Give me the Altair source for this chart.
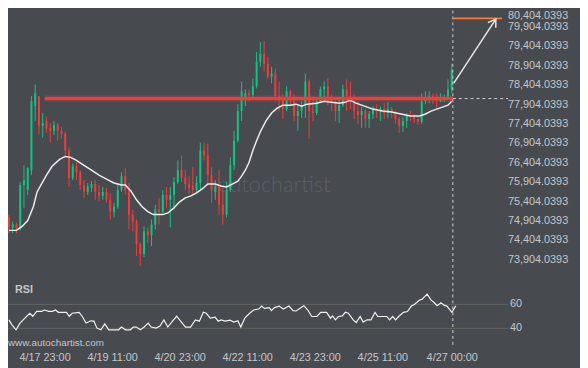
import altair as alt
import pandas as pd
from datetime import datetime, timedelta, timezone

# ---------------- data (2-hour candles from 4/17 04:00 UTC) ----------------
opens = [74996,74742,74818,74717,75834,75707,76215,77865,78119,77357,
         77484,77306,77230,77383,77230,77154,76722,76012,76316,76164,
         75834,75656,75758,75859,75656,75555,75656,75453,75148,75275,
         75707,76062,75707,75072,74894,74311,74056,74640,74539,74818,
         75199,75148,75580,75453,75580,75910,76215,76012,75859,75809,
         75707,75885,76722,76596,76088,75656,75809,75326,75072,75707,
         76342,76976,77738,78094,78195,78144,78373,79008,79211,78957,
         78627,78703,78119,78043,77789,78246,77992,77611,77738,77890,
         78500,77738,77687,77992,78297,78373,77992,77941,77738,77890,
         78297,78119,77992,77738,77636,77738,77535,77662,77789,77738,
         77789,77687,77789,77687,77535,77357,77484,77611,77586,77535,
         77459,77992,78068,78119,78017,77992,78043,78094,78297]
highs = [75072,74894,74869,75910,76342,76291,78119,78424,78119,77687,
         77586,77433,77484,77433,77332,77205,76799,76393,76418,76215,
         75961,75885,75935,75961,75834,75783,75758,75631,75377,75834,
         76164,76266,75885,75199,74945,74361,74767,74742,74945,75326,
         75504,75707,75783,75783,76037,76469,76596,76215,76062,76291,
         76062,76926,76926,76900,76291,75961,76215,75758,75910,76545,
         77230,77916,78500,78297,78297,78576,79261,79515,79541,79135,
         78881,78830,78500,78170,78373,78297,78170,77916,77992,78703,
         78551,78119,78043,78373,78500,78576,78170,78068,78043,78424,
         78551,78500,78170,77992,77840,77789,77738,77865,77916,77865,
         77941,77967,77840,77738,77586,77586,77687,77738,77662,77636,
         78195,78246,78246,78195,78195,78195,78170,78551,78957]
lows = [74590,74590,74590,74666,75250,75580,76088,77484,77154,77053,
        77179,76926,77129,76976,77027,76545,75783,75961,75961,75707,
        75504,75580,75656,75453,75427,75453,75377,74945,74996,75225,
        75656,75580,74691,74640,74006,73752,73980,74336,74260,74691,
        74818,75097,75250,74742,75199,75859,75910,75707,75605,75605,
        75656,75707,76469,75885,75377,75453,75072,74818,74996,75656,
        76215,76926,77484,77865,77992,78094,78322,78881,78754,78576,
        78449,77992,77738,77535,77738,77890,77484,77230,77560,77560,
        77027,77484,77636,77941,77992,77890,77738,77484,77433,77840,
        77738,77789,77535,77408,77306,77306,77306,77535,77560,77484,
        77535,77560,77560,77408,77179,77205,77306,77484,77433,77383,
        77408,77916,77941,77916,77814,77967,77967,78043,78195]
closes = [74742,74818,74717,75834,75961,76266,77992,78195,77357,77433,
          77281,77230,77383,77230,77154,76722,76012,76316,76164,75834,
          75656,75809,75859,75656,75555,75656,75453,75148,75275,75707,
          76062,75707,75072,74894,74311,74056,74640,74539,74818,75199,
          75148,75580,75453,75580,75910,76215,76012,75859,75758,75707,
          75885,76722,76596,76088,75707,75809,75326,75072,75707,76342,
          76976,77738,78246,78195,78144,78373,79008,79211,78957,78627,
          78703,78119,78043,77789,78246,77992,77611,77738,77890,78500,
          77738,77687,77992,78297,78373,77992,77941,77738,77890,78297,
          78119,77992,77738,77636,77738,77535,77662,77789,77738,77789,
          77687,77789,77687,77535,77357,77484,77611,77586,77535,77459,
          77992,78068,78119,78017,77992,78043,78094,78297,78805]

# moving average (hours from 4/17 04:00, price)
ma_hours = [0,4,7,10,13,15,20,23,27,30,33,36,40,44,48,52,56,60,62,65,
            68,71,74,77,82,85,88,91,94,97,100,103,106,110,113,116,119,122,124,126,
            128,130,132,134,137,140,143,146,150,153,156,159,164,168,172,176,179,182,185,188,
            191,194,199,204,209,214,219,222,225,228,231,234,236]
ma_vals = [74666,74666,74767,74920,75275,75656,76088,76316,76494,76570,
           76545,76469,76342,76215,76088,75986,75885,75834,75834,75682,
           75453,75275,75148,75072,75072,75123,75250,75402,75504,75555,
           75631,75732,75859,75859,75809,75783,75859,75935,76062,76215,
           76418,76722,76976,77205,77484,77687,77814,77890,77890,77916,
           77865,77916,77941,77992,77967,77941,77967,78017,77941,77890,
           77840,77789,77738,77712,77662,77611,77611,77662,77738,77789,
           77840,77890,77992]

# RSI (hours from 4/17 04:00, value)
rsi_hours = [0,1.7,3.8,5.9,8.5,11.1,12.7,14.8,17.4,19.0,
             21.1,23.2,24.8,26.4,30.6,32.2,33.7,37.4,39.0,41.1,
             43.7,45.3,46.9,49.0,51.1,53.2,58.4,60.0,62.1,64.7,
             66.3,67.9,70.0,72.1,74.2,75.8,78.4,80.5,82.6,84.7,
             87.3,89.4,91.5,94.1,96.8,99.4,101.5,103.6,105.2,107.3,
             109.9,111.5,113.1,115.2,117.8,119.9,122.0,123.6,125.7,128.3,
             130.4,133.1,134.7,136.2,138.8,139.9,141.5,144.1,146.2,149.3,
             151.4,153.0,154.6,157.2,159.3,161.4,164.1,166.2,169.3,171.4,
             172.5,174.0,175.6,177.7,179.3,180.9,183.5,185.1,187.2,188.8,
             190.9,193.0,195.1,196.6,201.4,202.9,204.5,206.1,207.7,210.3,
             212.4,214.5,216.1,218.7,220.3,221.4,222.9,225.0,226.6,228.2,
             230.3,231.9,233.4,236.1,238.2]
rsi_vals = [47.1,42.7,38.8,44.4,48.5,52.6,50.1,54.2,54.2,55.3,
            54.2,54.2,55.3,53.4,53.4,50.1,52.6,53.4,50.1,44.4,
            46.3,46.0,40.2,38.8,43.8,38.8,38.8,41.1,38.8,38.8,
            41.1,41.1,38.8,41.1,44.4,41.1,40.2,41.9,47.1,41.1,
            46.3,50.1,46.0,41.1,41.1,47.1,46.0,53.4,52.6,48.5,
            49.3,46.0,47.1,46.0,46.8,45.2,46.3,41.1,48.5,52.6,
            55.3,56.1,58.6,56.7,57.3,54.8,57.3,58.6,56.1,58.6,
            54.8,54.5,56.1,58.9,55.3,49.9,49.9,53.4,53.4,48.5,
            50.4,47.1,49.9,50.4,53.4,52.6,47.1,44.9,49.9,45.2,
            47.1,47.1,53.4,49.9,49.9,47.1,49.9,47.1,49.9,53.4,
            54.0,58.6,60.0,63.5,64.4,66.3,68.5,63.5,61.6,58.9,
            61.4,59.4,58.6,53.4,58.9]

resistance_level = 78060
resistance_start_h = 19
last_h = 236.6
target_level = 80125
target_end_h = 262.8
arrow_from = (237.1, 78457)
arrow_to = (259.5, 80107)
price_ticks = [73904.0393 + 500 * k for k in range(14)]
rsi_ticks = [40, 60]
x_label_hours = [19, 55, 91, 127, 163, 199, 236]

# ---------------- helpers ----------------
BASE = datetime(2025, 4, 17, 4, 0, tzinfo=timezone.utc)
def iso(h):
    return (BASE + timedelta(hours=h)).strftime("%Y-%m-%dT%H:%M:%SZ")
def ms(h):
    return int((BASE + timedelta(hours=h)).timestamp() * 1000)

W, H = 507, 342
BG = "#474b50"
GREEN = "#13c383"
RED = "#ef3d3b"
TXT = "#c4c6c9"
FONT = "Liberation Sans"

x_scale = alt.Scale(type="utc", domain=[ms(-0.5), ms(266)])
x_axis = alt.Axis(values=[ms(h) for h in x_label_hours],
                  labelExpr="utcFormat(datum.value, '%-m/%-d %H:%M')",
                  title=None, domain=False, ticks=False, grid=False,
                  labelColor=TXT, labelFontSize=11, labelFont=FONT,
                  labelPadding=4, labelFlush=False, labelOverlap=False)
def xenc(f="t"):
    return alt.X(f"{f}:T", scale=x_scale, axis=x_axis)

p_scale = alt.Scale(domain=[71643, 80328], zero=False, nice=False)
r_scale = alt.Scale(domain=[23.8, 305.3], zero=False, nice=False)
def py(f):
    return alt.Y(f"{f}:Q", scale=p_scale, axis=None)
def ry(f):
    return alt.Y(f"{f}:Q", scale=r_scale, axis=None)

one = pd.DataFrame({"a": [0]})

# ---------------- price panel ----------------
cdf = pd.DataFrame({"t": [iso(2 * i) for i in range(len(opens))],
                    "o": opens, "h": highs, "l": lows, "c": closes})
cdf["dir"] = ["up" if c >= o else "down" for o, c in zip(opens, closes)]
color = alt.Color("dir:N", scale=alt.Scale(domain=["up", "down"], range=[GREEN, RED]), legend=None)

watermark = alt.Chart(one).mark_text(
    text="autochartist", align="right", baseline="middle", fontSize=22,
    font="Lato", fontWeight=300, color="#5a5e64"
).encode(x=alt.value(327), y=alt.value(177))

wicks = alt.Chart(cdf).mark_rule(strokeWidth=1).encode(
    x=xenc(), y=py("l"), y2=alt.Y2("h"), color=color)
bodies = alt.Chart(cdf).mark_rule(strokeWidth=2).encode(
    x=xenc(), y=py("o"), y2=alt.Y2("c"), color=color)

madf = pd.DataFrame({"t": [iso(h) for h in ma_hours], "v": ma_vals})
ma = alt.Chart(madf).mark_line(color="#ececec", strokeWidth=1.5).encode(x=xenc(), y=py("v"))

resdf = pd.DataFrame({"t1": [iso(resistance_start_h)], "t2": [iso(last_h)], "v": [resistance_level]})
glow = alt.Chart(resdf).mark_rule(color=RED, strokeWidth=6, opacity=0.3).encode(
    x=xenc("t1"), x2=alt.X2("t2"), y=py("v"))
resline = alt.Chart(resdf).mark_rule(color=RED, strokeWidth=3).encode(
    x=xenc("t1"), x2=alt.X2("t2"), y=py("v"))

lastdf = pd.DataFrame({"t": [iso(last_h)], "v": [resistance_level]})
vdash = alt.Chart(lastdf).mark_rule(color="#d0d0d0", strokeDash=[3, 3], strokeWidth=1).encode(
    x=xenc(), y=alt.value(0), y2=alt.value(H))
hdash = alt.Chart(lastdf).mark_rule(color="#d0d0d0", strokeDash=[3, 3], strokeWidth=1).encode(
    x=xenc(), x2=alt.value(W), y=py("v"))

tgtdf = pd.DataFrame({"t1": [iso(last_h)], "t2": [iso(target_end_h)], "v": [target_level]})
orange = alt.Chart(tgtdf).mark_rule(color="#ff7b2c", strokeWidth=2).encode(
    x=xenc("t1"), x2=alt.X2("t2"), y=py("v"))

adf = pd.DataFrame({"t1": [iso(arrow_from[0])], "t2": [iso(arrow_to[0])],
                    "v1": [arrow_from[1]], "v2": [arrow_to[1]]})
arrow = alt.Chart(adf).mark_rule(color="#e8e8e8", strokeWidth=1.5).encode(
    x=xenc("t1"), x2=alt.X2("t2"), y=py("v1"), y2=alt.Y2("v2"))
head = alt.Chart(adf).mark_point(
    shape="M-0.55,0.85L0,0L0.55,0.85", filled=False, size=300, angle=33,
    strokeWidth=1.5, color="#e8e8e8", opacity=1
).encode(x=xenc("t2"), y=py("v2"))

pl = pd.DataFrame({"v": price_ticks[:-1]})
pl["label"] = [f"{v:,.4f}" for v in pl["v"]]
plabels = alt.Chart(pl).mark_text(align="right", baseline="middle", fontSize=11,
                                  font=FONT, color=TXT).encode(
    x=alt.value(568), y=py("v"), text="label:N")
ptop_df = pd.DataFrame({"v": price_ticks[-1:]})
ptop_df["label"] = [f"{v:,.4f}" for v in ptop_df["v"]]
ptop = alt.Chart(ptop_df).mark_text(align="right", baseline="top", dy=3, fontSize=11,
                                    font=FONT, color=TXT).encode(
    x=alt.value(568), y=py("v"), text="label:N")

price = alt.layer(watermark, wicks, bodies, ma, glow, resline, vdash, hdash,
                  orange, arrow, head, plabels, ptop)

# ---------------- RSI panel ----------------
rg = pd.DataFrame({"v": rsi_ticks})
rg["label"] = [str(v) for v in rsi_ticks]
rgrid = alt.Chart(rg).mark_rule(color="#5f6462", strokeWidth=1).encode(
    y=ry("v"), x=alt.value(-1), x2=alt.value(W))
rdf = pd.DataFrame({"t": [iso(h) for h in rsi_hours], "v": rsi_vals})
rline = alt.Chart(rdf).mark_line(color="#f0f0f0", strokeWidth=1.2).encode(x=xenc(), y=ry("v"))
rlabels = alt.Chart(rg).mark_text(align="left", baseline="middle", fontSize=11,
                                  font=FONT, color=TXT).encode(
    x=alt.value(509), y=ry("v"), text="label:N")
rtitle = alt.Chart(one).mark_text(text="RSI", align="left", baseline="middle", fontSize=11,
                                  fontWeight="bold", font=FONT, color=TXT).encode(
    x=alt.value(7), y=alt.value(283))
site = alt.Chart(one).mark_text(text="www.autochartist.com", align="left", baseline="middle",
                                fontSize=10, font=FONT, color=TXT).encode(
    x=alt.value(0), y=alt.value(337))

rsi = alt.layer(rgrid, rline, rlabels, rtitle, site)

chart = alt.layer(price, rsi).resolve_scale(y="independent").properties(
    width=W, height=H, background=BG,
    padding={"left": 0, "top": 0, "right": 73, "bottom": 18},
    autosize=alt.AutoSizeParams(type="none"),
    usermeta={"embedOptions": {"defaultStyle": "body{background:#474b50;}"}},
).configure_view(stroke=None)

chart.save("out.html", embed_options={"renderer": "svg", "actions": False})
